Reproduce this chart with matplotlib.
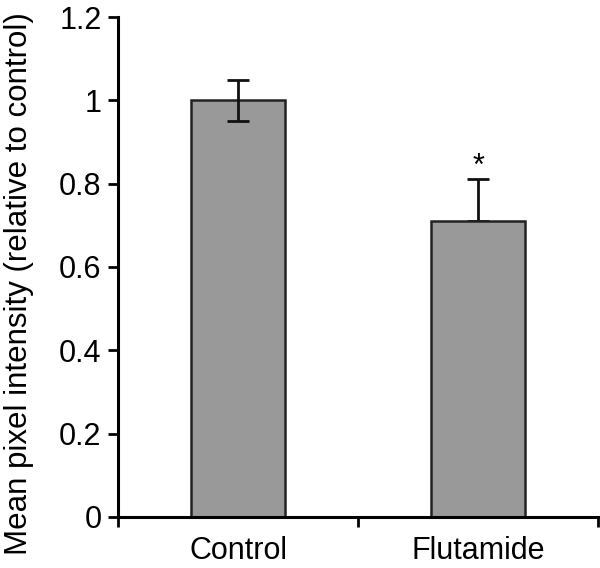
import matplotlib
matplotlib.use("Agg")
import matplotlib.pyplot as plt

categories = ["Control", "Flutamide"]
values = [1.0, 0.71]
err_lower = [0.05, 0.0]
err_upper = [0.05, 0.10]
yticks = [0, 0.2, 0.4, 0.6, 0.8, 1.0, 1.2]
ytick_labels = ["0", "0.2", "0.4", "0.6", "0.8", "1", "1.2"]
sig_marks = ["", "*"]

plt.rcParams['font.family'] = ['Liberation Sans', 'DejaVu Sans']

fig = plt.figure(figsize=(6, 5.68), dpi=100)
ax = fig.add_axes([0.197, 0.09, 0.800, 0.88])

x = list(range(len(categories)))
ax.bar(x, values, width=0.39, color="#999999", edgecolor="#222222", linewidth=1.8, zorder=2)
for xi, v, el, eu, m in zip(x, values, err_lower, err_upper, sig_marks):
    ax.errorbar([xi], [v], yerr=[[el], [eu]], fmt="none", ecolor="#111111",
                elinewidth=2, capsize=8, capthick=2, zorder=3 if el > 0 else 1)
    if m:
        ax.text(xi, v + eu - 0.005, m, ha="center", va="bottom", fontsize=22)

ax.set_xlim(-0.5, 1.5)
ax.set_ylim(0, 1.2)
ax.set_yticks(yticks)
ax.set_yticklabels(ytick_labels, fontsize=22)
ax.set_xticks([-0.5, 0.5, 1.5])
ax.set_xticklabels([])
ax.set_xticks(x, minor=True)
ax.set_xticklabels(categories, minor=True, fontsize=22)
ax.tick_params(axis="x", which="minor", length=0, pad=14)
ax.tick_params(axis="both", which="major", length=7, width=2, direction="out")
ax.tick_params(axis="y", pad=5)

for s in ["top", "right"]:
    ax.spines[s].set_visible(False)
for s in ["left", "bottom"]:
    ax.spines[s].set_linewidth(2.2)

fig.text(0.032, 0.5, "Mean pixel intensity (relative to control)", rotation=90,
         ha="center", va="center", fontsize=22.5)

fig.savefig("out.png", dpi=100)
